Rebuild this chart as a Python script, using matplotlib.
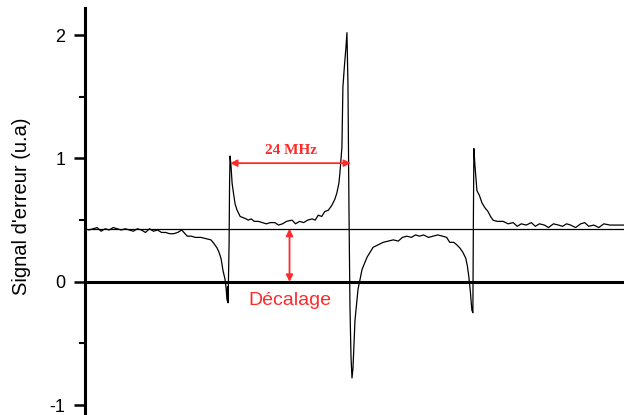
import matplotlib
matplotlib.use("Agg")
import matplotlib.pyplot as plt
from matplotlib.ticker import MultipleLocator

# Frequency detuning (MHz) and error signal (arb. units)
freq = [-28.6, -27.8, -27.0, -26.2, -25.4, -24.6, -23.8, -23.0, -22.2, -21.4,
        -20.6, -19.8, -19.0, -18.2, -17.4, -16.6, -15.8, -15.0, -14.2, -13.4,
        -12.6, -11.8, -11.0, -10.2, -9.4, -8.3, -7.5, -6.7, -5.6, -4.6,
        -3.6, -3.0, -2.4, -2.0, -1.6, -1.2, -0.8, -0.6, -0.4, -0.3,
        -0.2, 0.0, 0.1, 0.2, 0.4, 0.6, 0.8, 1.2, 1.6, 2.2,
        2.8, 3.4, 3.8, 4.4, 5.0, 5.8, 6.6, 7.4, 8.2, 9.1,
        9.8, 10.6, 11.4, 12.5, 13.2, 14.0, 14.8, 15.6, 16.5, 17.1,
        17.7, 18.4, 19.0, 19.7, 20.4, 21.0, 21.4, 21.8, 22.0, 22.2,
        22.4, 22.6, 22.9, 23.2, 23.4, 23.6, 23.8, 24.0, 24.2, 24.4,
        24.6, 25.0, 25.6, 26.4, 27.4, 28.6, 29.6, 30.6, 31.6, 32.6,
        33.6, 34.4, 35.3, 36.2, 37.0, 37.8, 38.6, 39.6, 40.5, 41.4,
        42.4, 43.2, 43.8, 44.6, 45.2, 45.8, 46.4, 47.0, 47.3, 47.6,
        47.9, 48.2, 48.4, 48.5, 48.6, 48.8, 49.2, 49.7, 50.2, 50.8,
        51.4, 51.9, 52.4, 53.2, 54.4, 55.4, 56.4, 57.2, 58.0, 59.0,
        60.0, 60.8, 61.6, 62.6, 63.4, 64.4, 65.4, 66.2, 67.0, 67.8,
        68.8, 69.8, 70.6, 71.4, 72.4, 73.4, 74.4, 75.6, 76.8, 78.4]
signal = [0.43, 0.42, 0.43, 0.44, 0.41, 0.43, 0.42, 0.44, 0.43, 0.42,
          0.43, 0.42, 0.41, 0.43, 0.42, 0.40, 0.43, 0.41, 0.42, 0.40,
          0.40, 0.39, 0.39, 0.40, 0.42, 0.37, 0.37, 0.36, 0.36, 0.35,
          0.34, 0.31, 0.275, 0.24, 0.19, 0.09, 0.02, -0.05, -0.15, -0.04,
          -0.17, 0.30, 0.80, 1.02, 0.93, 0.80, 0.74, 0.63, 0.58, 0.53,
          0.52, 0.51, 0.50, 0.51, 0.49, 0.49, 0.48, 0.47, 0.48, 0.48,
          0.46, 0.47, 0.49, 0.50, 0.47, 0.49, 0.48, 0.50, 0.51, 0.50,
          0.54, 0.53, 0.57, 0.58, 0.62, 0.67, 0.72, 0.80, 0.88, 0.98,
          1.09, 1.58, 1.75, 1.90, 2.02, 1.60, 0.60, -0.20, -0.60, -0.78,
          -0.70, -0.31, -0.06, 0.10, 0.20, 0.28, 0.30, 0.32, 0.33, 0.34,
          0.33, 0.36, 0.37, 0.36, 0.38, 0.37, 0.38, 0.36, 0.37, 0.38,
          0.37, 0.36, 0.32, 0.32, 0.30, 0.275, 0.24, 0.19, 0.13, 0.04,
          -0.08, -0.23, -0.25, 0.50, 1.08, 0.95, 0.74, 0.70, 0.64, 0.60,
          0.57, 0.53, 0.50, 0.49, 0.49, 0.47, 0.48, 0.45, 0.47, 0.46,
          0.48, 0.45, 0.47, 0.46, 0.44, 0.47, 0.46, 0.45, 0.47, 0.46,
          0.44, 0.47, 0.48, 0.45, 0.46, 0.44, 0.47, 0.46, 0.46, 0.46]

offset_level = 0.43
span_start, span_end = 0.2, 24.2
span_label = "24 MHz"
offset_label = "Décalage"
ylabel = "Signal d'erreur (u.a)"
yticks = [-1, 0, 1, 2]

red = "#ff2a2a"

fig = plt.figure(figsize=(6.24, 4.15), dpi=100)
ax = fig.add_axes([85 / 624, 0.0, 539 / 624, 407 / 415])

ax.plot(freq, signal, color="black", lw=0.9)
ax.axhline(0, color="black", lw=2.2)
ax.axhline(offset_level, color="black", lw=0.9)

ax.set_xlim(-28.6, 78.4)
ax.set_ylim(-1.08, 2.22)

for s in ["top", "right", "bottom"]:
    ax.spines[s].set_visible(False)
ax.spines["left"].set_linewidth(2.2)
ax.set_xticks([])
ax.set_yticks(yticks)
ax.set_yticklabels([str(t) for t in yticks])
ax.yaxis.set_minor_locator(MultipleLocator(0.5))
ax.tick_params(axis="y", which="major", direction="out", length=8, width=1.8,
               labelsize=13, pad=6, labelfontfamily="Liberation Sans")
ax.tick_params(axis="y", which="minor", direction="out", length=4, width=1.5)
ax.set_ylabel(ylabel, fontsize=14.5, family="Liberation Sans",
              va="center", ha="center")
ax.yaxis.set_label_coords(-63 / 539, (415 - 206) / 407)

# 24 MHz arrow
ax.annotate("", xy=(span_start, 0.962), xytext=(span_end, 0.962),
            arrowprops=dict(arrowstyle="<|-|>", color=red, lw=1.3,
                            mutation_scale=10, shrinkA=0, shrinkB=0))
ax.text((span_start + span_end) / 2, 1.065, span_label, color=red,
        fontsize=11, fontweight="bold", family="Liberation Serif",
        ha="center", va="center")

# Offset arrow
xo = 12.0
ax.annotate("", xy=(xo, 0.0), xytext=(xo, offset_level),
            arrowprops=dict(arrowstyle="<|-|>", color=red, lw=1.3,
                            mutation_scale=10, shrinkA=0, shrinkB=0))
ax.text(xo, -0.15, offset_label, color=red, fontsize=14,
        family="Liberation Sans", ha="center", va="center")

fig.savefig("out.png", dpi=100)
